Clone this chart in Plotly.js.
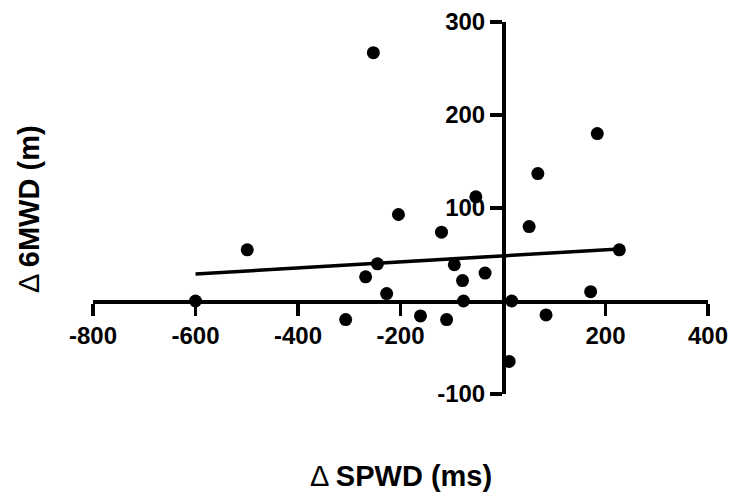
<!DOCTYPE html>
<html>
<head>
<meta charset="utf-8">
<script src="https://cdn.plot.ly/plotly-3.0.1.min.js"></script>
<style>html,body{margin:0;padding:0;background:#fff;}#chart{width:734px;height:497px;}</style>
</head>
<body>
<div id="chart"></div>
<script>
const spwd = [-600, -499, -253, -245, -268, -227, -204, -307, -161, -120, -110, -95, -79, -77, -53, -35, 17, 12, 51, 68, 84, 171, 184, 227];
const mwd  = [0, 55, 267, 40, 26, 8, 93, -20, -16, 74, -20, 39, 22, 0, 112, 30, 0, -65, 80, 137, -15, 10, 180, 55];
const fitX = [-600, 227];
const fitY = [29, 56];
const xTicks = [-800, -600, -400, -200, 200, 400];
const yTicks = [-100, 100, 200, 300];

const tickFont = {family: 'Liberation Sans, Arial, sans-serif', size: 24, color: '#000', weight: 'bold'};
const titleFont = {family: 'Liberation Sans, Arial, sans-serif', size: 29, color: '#000', weight: 'normal'};

const data = [
  {x: fitX, y: fitY, mode: 'lines', type: 'scatter', line: {color: '#000', width: 3.5}, cliponaxis: false, hoverinfo: 'skip'},
  {x: spwd, y: mwd, mode: 'markers', type: 'scatter', marker: {color: '#000', size: 13}, cliponaxis: false}
];

const layout = {
  width: 734, height: 497,
  margin: {l: 93, r: 26, t: 22, b: 103},
  paper_bgcolor: '#fff', plot_bgcolor: '#fff',
  showlegend: false,
  xaxis: {
    range: [-800, 400], anchor: 'free', position: 0.25,
    showgrid: false, zeroline: false,
    showline: true, linecolor: '#000', linewidth: 3.5,
    ticks: 'outside', ticklen: 12, tickwidth: 3.5, tickcolor: '#000',
    tickmode: 'array', tickvals: xTicks, ticktext: xTicks.map(String),
    tickfont: tickFont
  },
  yaxis: {
    range: [-100, 300], anchor: 'free', position: 800/1200,
    showgrid: false, zeroline: false,
    showline: true, linecolor: '#000', linewidth: 3.5,
    ticks: 'outside', ticklen: 12, tickwidth: 3.5, tickcolor: '#000',
    tickmode: 'array', tickvals: yTicks, ticktext: yTicks.map(String),
    tickfont: tickFont
  },
  annotations: [
    {text: 'Δ <b>SPWD (ms)</b>', xref: 'paper', yref: 'paper', x: (401-93)/615, y: (394-476)/372, xanchor: 'center', yanchor: 'middle', showarrow: false, font: titleFont},
    {text: 'Δ <b>6MWD (m)</b>', xref: 'paper', yref: 'paper', x: (29-93)/615, y: (394-209)/372, xanchor: 'center', yanchor: 'middle', showarrow: false, textangle: -90, font: titleFont}
  ]
};

Plotly.newPlot('chart', data, layout, {displayModeBar: false, staticPlot: true});
</script>
</body>
</html>
